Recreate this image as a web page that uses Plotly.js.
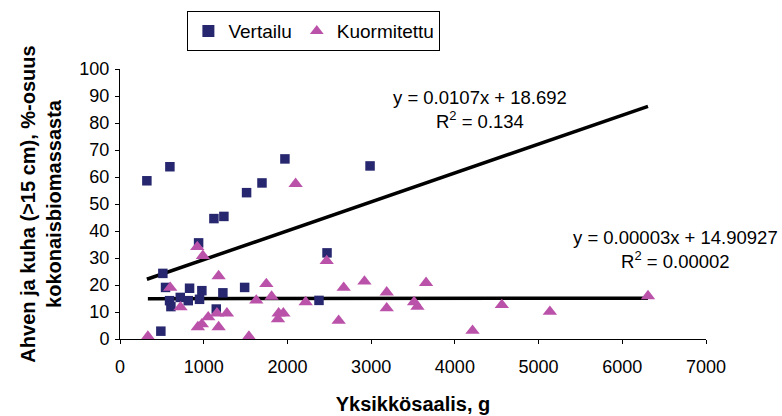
<!DOCTYPE html>
<html>
<head>
<meta charset="utf-8">
<script src="https://cdn.plot.ly/plotly-3.0.1.min.js"></script>
<style>
  html, body { margin: 0; padding: 0; background: #fff; }
  #chart { width: 782px; height: 416px; }
</style>
</head>
<body>
<div id="chart"></div>
<script>
// Unit catch (g) and share of perch and pike-perch >15 cm (% of total biomass)
const vertailuX = [321, 596, 939, 512, 544, 592, 608, 720, 815, 831, 950, 978,
                   488, 1122, 1241, 1150, 1229, 1512, 1489, 1696, 1970, 2987, 2473, 2377];
const vertailuY = [58.6, 63.8, 35.6, 24.3, 19.1, 14.2, 12.0, 15.4, 14.2, 18.8, 14.7, 17.9,
                   2.9, 44.6, 45.4, 11.1, 17.1, 54.2, 19.1, 57.8, 66.7, 64.1, 31.9, 14.3];

const kuormX = [333, 600, 723, 923, 990, 930, 978, 1054, 1158, 1178, 1178, 1277,
                1540, 1628, 1748, 1811, 1887, 1895, 1951, 2098, 2218, 2469, 2612, 2672,
                2920, 3186, 3186, 3513, 3553, 3656, 4211, 4561, 5135, 6307];
const kuormY = [0.9, 19.0, 11.8, 34.1, 30.8, 4.4, 5.5, 8.1, 9.5, 4.4, 23.3, 9.5,
                0.9, 14.3, 20.4, 15.7, 7.4, 9.5, 9.5, 57.5, 13.7, 28.9, 6.8, 19.0,
                21.3, 17.3, 11.4, 13.7, 12.0, 20.8, 3.1, 12.6, 10.1, 15.9];

// Linear trendlines (slope, intercept, R²) as reported
const vertailuFit = { slope: 0.0107, intercept: 18.692, r2: '0.134' };
const kuormFit = { slope: 0.00003, intercept: 14.90927, r2: '0.00002' };

const xTicks = [0, 1000, 2000, 3000, 4000, 5000, 6000, 7000];
const yTicks = [0, 10, 20, 30, 40, 50, 60, 70, 80, 90, 100];

const FONT = 'Arial, "Liberation Sans", sans-serif';

// Both trendlines run from the smallest catch of their series to the largest catch overall
const xMaxAll = Math.max(...vertailuX, ...kuormX);
function fitLine(xs, fit) {
  const x0 = Math.min(...xs);
  const xsLine = [x0, xMaxAll];
  return { x: xsLine, y: xsLine.map(v => fit.slope * v + fit.intercept) };
}
const vLine = fitLine(vertailuX, vertailuFit);
const kLine = fitLine(kuormX, kuormFit);

const traces = [
  {
    x: vLine.x, y: vLine.y, mode: 'lines', type: 'scatter',
    line: { color: '#000000', width: 3.5 }, showlegend: false, hoverinfo: 'skip'
  },
  {
    x: kLine.x, y: kLine.y, mode: 'lines', type: 'scatter',
    line: { color: '#000000', width: 3.5 }, showlegend: false, hoverinfo: 'skip'
  },
  {
    x: vertailuX, y: vertailuY, name: 'Vertailu', mode: 'markers', type: 'scatter',
    marker: { symbol: 'square', size: 9.5, color: '#27276f' }
  },
  {
    x: kuormX, y: kuormY, name: 'Kuormitettu', mode: 'markers', type: 'scatter',
    marker: { symbol: 'triangle-up', size: 12.5, color: '#bb52aa' }
  }
];

const axisCommon = {
  showgrid: false, zeroline: false, showline: true,
  linecolor: '#000000', linewidth: 1,
  ticks: 'outside', ticklen: 4, tickwidth: 1, tickcolor: '#000000',
  tickfont: { family: FONT, size: 18, color: '#000000' }
};

const layout = {
  width: 782, height: 416,
  margin: { l: 120, r: 76, t: 68, b: 77 },
  paper_bgcolor: '#ffffff', plot_bgcolor: '#ffffff',
  font: { family: FONT, color: '#000000' },
  xaxis: Object.assign({}, axisCommon, {
    range: [0, 7000], tickvals: xTicks, ticktext: xTicks.map(String),
    ticklabelstandoff: 7,
    title: { text: '<b>Yksikkösaalis, g</b>', font: { family: FONT, size: 20 }, standoff: 21 }
  }),
  yaxis: Object.assign({}, axisCommon, {
    range: [0, 100], tickvals: yTicks, ticktext: yTicks.map(String),
    ticklabelstandoff: 2,
    title: { text: '<b>Ahven ja kuha (>15 cm), %-osuus<br>kokonaisbiomassasta</b>',
             font: { family: FONT, size: 20 }, standoff: 12 }
  }),
  legend: {
    orientation: 'h', x: 0.115, y: 1.21, xanchor: 'left', yanchor: 'top',
    bordercolor: '#000000', borderwidth: 1, bgcolor: '#ffffff',
    font: { family: FONT, size: 19, color: '#000000' },
    itemsizing: 'constant'
  },
  showlegend: true,
  annotations: [
    {
      xref: 'x', yref: 'y', x: 4298, y: 85, showarrow: false,
      text: 'y = ' + vertailuFit.slope + 'x + ' + vertailuFit.intercept + '<br>R<sup>2</sup> = ' + vertailuFit.r2,
      font: { family: FONT, size: 18.5 }, align: 'center'
    },
    {
      xref: 'x', yref: 'y', x: 6641, y: 33, showarrow: false,
      text: 'y = ' + kuormFit.slope.toFixed(5) + 'x + ' + kuormFit.intercept + '<br>R<sup>2</sup> = ' + kuormFit.r2,
      font: { family: FONT, size: 18.5 }, align: 'center'
    }
  ]
};

Plotly.newPlot('chart', traces, layout, { displayModeBar: false, staticPlot: true });
</script>
</body>
</html>
